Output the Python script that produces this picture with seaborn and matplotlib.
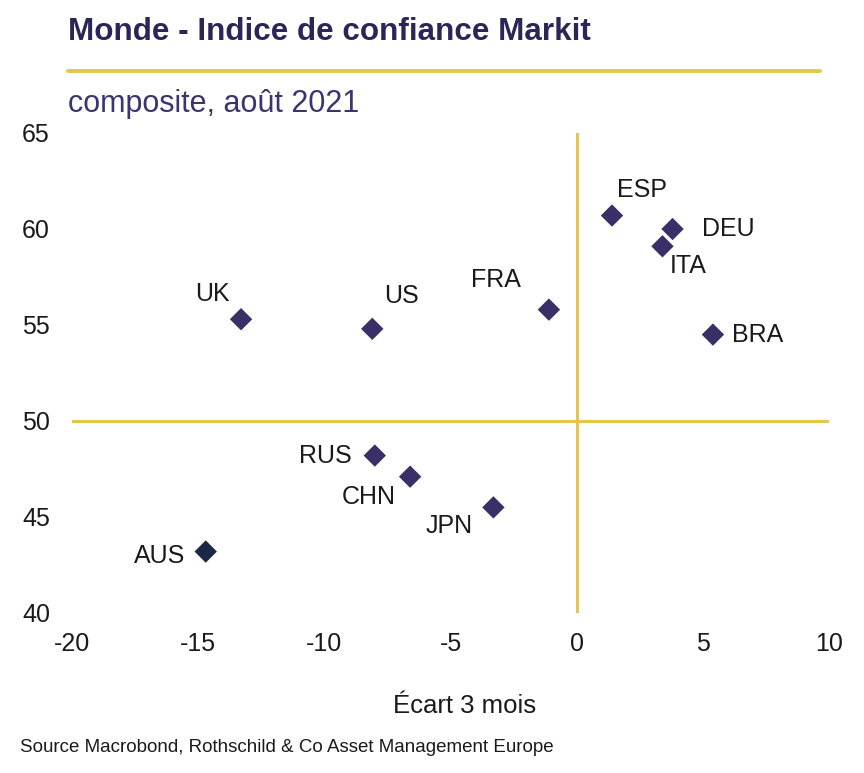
import matplotlib
matplotlib.use("Agg")
import matplotlib.pyplot as plt
import seaborn as sns
import pandas as pd

countries = ["ESP", "DEU", "ITA", "BRA", "FRA", "US", "UK", "RUS", "CHN", "JPN", "AUS"]
ecart_3m = [1.4, 3.8, 3.4, 5.4, -1.1, -8.1, -13.3, -8.0, -6.6, -3.3, -14.7]
indice = [60.7, 60.0, 59.1, 54.5, 55.8, 54.8, 55.3, 48.2, 47.1, 45.5, 43.2]
groups = ["main"] * 10 + ["aus"]

df = pd.DataFrame({"pays": countries, "x": ecart_3m, "y": indice, "g": groups})

sns.set_theme(style="white")
plt.rcParams["font.family"] = ["Liberation Sans", "DejaVu Sans"]
plt.rcParams["axes.unicode_minus"] = False

fig = plt.figure(figsize=(8.64, 7.73), dpi=100)
W, H = 864, 773
ax = fig.add_axes([72 / W, 1 - 613 / H, (829 - 72) / W, (613 - 133) / H])

gold = "#E2C64E"
ax.axhline(50, color=gold, lw=2.2, zorder=1)
ax.axvline(0, color=gold, lw=2.2, zorder=1)

sns.scatterplot(data=df, x="x", y="y", hue="g", palette={"main": "#3A2F66", "aus": "#1C2748"},
                marker="D", s=130, edgecolor="none", legend=False, ax=ax, zorder=3)

# label offsets in pixels (dx, dy, ha)
offsets = {
    "ESP": (5, 26, "left"),
    "DEU": (29, 0, "left"),
    "ITA": (7, -20, "left"),
    "BRA": (19, 0, "left"),
    "FRA": (-28, 30, "right"),
    "US": (12, 33, "left"),
    "UK": (-11, 25, "right"),
    "RUS": (-23, 0, "right"),
    "CHN": (-14, -20, "right"),
    "JPN": (-21, -19, "right"),
    "AUS": (-20, -4, "right"),
}
for p, xv, yv in zip(countries, ecart_3m, indice):
    dx, dy, ha = offsets[p]
    ax.annotate(p, (xv, yv), xytext=(dx * 0.72, dy * 0.72), textcoords="offset points",
                ha=ha, va="center", fontsize=18, color="#1a1a1a")

ax.set_xlim(-20, 10)
ax.set_ylim(40, 65)
ax.set_xticks([-20, -15, -10, -5, 0, 5, 10])
ax.set_yticks([40, 45, 50, 55, 60, 65])
ax.tick_params(axis="both", labelsize=18, length=0, colors="#1a1a1a")
ax.tick_params(axis="x", pad=14)
for lab in ax.get_yticklabels():
    lab.set_horizontalalignment("left")
ax.yaxis.set_tick_params(pad=36)
for s in ax.spines.values():
    s.set_visible(False)
ax.set_xlabel("")
ax.set_ylabel("")

fig.text(465 / W, 1 - 706 / H, "Écart 3 mois", ha="center", va="center", fontsize=18.5, color="#1a1a1a")
fig.text(68 / W, 1 - 32 / H, "Monde - Indice de confiance Markit", ha="left", va="center",
         fontsize=22.6, fontweight="bold", color="#2B2558")
fig.add_artist(plt.Line2D([68 / W, 820 / W], [1 - 71 / H, 1 - 71 / H], color=gold, lw=2.8))
fig.text(68 / W, 1 - 104 / H, "composite, août 2021", ha="left", va="center",
         fontsize=22, color="#3A3470")
fig.text(20 / W, 1 - 748 / H, "Source Macrobond, Rothschild & Co Asset Management Europe",
         ha="left", va="center", fontsize=13.5, color="#1a1a1a")

fig.savefig("out.png", dpi=100)
